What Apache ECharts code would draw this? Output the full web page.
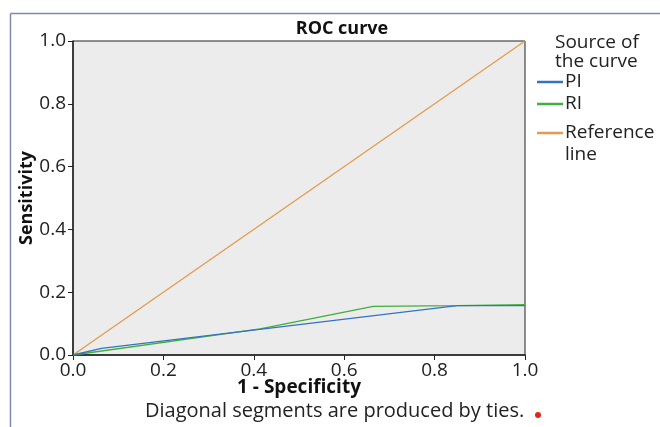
<!DOCTYPE html>
<html><head><meta charset="utf-8">
<script src="https://cdn.jsdelivr.net/npm/echarts@6/dist/echarts.min.js"></script>
<style>html,body{margin:0;padding:0;background:#fff}#c{width:660px;height:427px}</style>
</head><body><div id="c"></div>
<script>
const xTicks = [0.0, 0.2, 0.4, 0.6, 0.8, 1.0];
const piCurve = [[0, 0], [0.063, 0.021], [0.85, 0.157], [1.0, 0.157]];
const riCurve = [[0, 0], [0.414, 0.083], [0.664, 0.155], [0.85, 0.157], [1.0, 0.16]];
const refLine = [[0, 0], [1, 1]];
const seriesNames = ['PI', 'RI', 'Reference\nline'];
const colors = ['#3573c2', '#3fb03b', '#e39b4c'];
const FONT = '"Open Sans", "Noto Sans", sans-serif';

const chart = echarts.init(document.getElementById('c'));
const legendGraphics = [
  {type:'text', left:555, top:33, style:{text:'Source of\nthe curve', font:'19px ' + FONT, fill:'#222', lineHeight:19}}
];
const legendY = [82, 104, 133];
seriesNames.forEach((n, i) => {
  legendGraphics.push({type:'line', shape:{x1:537, y1:legendY[i], x2:563, y2:legendY[i]}, style:{stroke:colors[i], lineWidth:2.5}});
  legendGraphics.push({type:'text', left:565, top:legendY[i]-11, style:{text:n, font:'19px ' + FONT, fill:'#222', lineHeight:22}});
});

chart.setOption({
  animation:false,
  title:{text:'ROC curve', left:337, top:15, textAlign:'center', textStyle:{fontFamily:FONT, fontWeight:'bold', fontSize:18, color:'#111'}},
  grid:{left:73, right:135, top:41, bottom:72, show:true, backgroundColor:'#ececec', borderColor:'#222', borderWidth:1},
  xAxis:{type:'value', min:0, max:1, interval:0.2,
    name:'1 - Specificity', nameLocation:'middle', nameGap:23, nameMoveOverlap:false,
    nameTextStyle:{fontFamily:FONT, fontWeight:'bold', fontSize:19, color:'#111'},
    axisLine:{lineStyle:{color:'#222', width:1.5}}, axisTick:{show:true, length:5, lineStyle:{color:'#222'}},
    splitLine:{show:false},
    axisLabel:{fontFamily:FONT, fontSize:19, color:'#222', margin:6, formatter:v=>v.toFixed(1)}},
  yAxis:{type:'value', min:0, max:1, interval:0.2,
    name:'Sensitivity', nameLocation:'middle', nameGap:37, nameRotate:90, nameMoveOverlap:false,
    nameTextStyle:{fontFamily:FONT, fontWeight:'bold', fontSize:18, color:'#111'},
    axisLine:{show:true, lineStyle:{color:'#222', width:1.5}}, axisTick:{show:true, length:5, lineStyle:{color:'#222'}},
    splitLine:{show:false},
    axisLabel:{fontFamily:FONT, fontSize:19, color:'#222', margin:7, formatter:v=>v.toFixed(1)}},
  series:[
    {name:seriesNames[2], type:'line', data:refLine, showSymbol:false, lineStyle:{color:colors[2], width:1.3}, z:2},
    {name:seriesNames[1], type:'line', data:riCurve, showSymbol:false, lineStyle:{color:colors[1], width:1.3}, z:3},
    {name:seriesNames[0], type:'line', data:piCurve, showSymbol:false, lineStyle:{color:colors[0], width:1.3}, z:4}
  ],
  graphic:[
    {type:'line', shape:{x1:10.5, y1:13.5, x2:660, y2:13.5}, style:{stroke:'#7d8ca6', lineWidth:1.5}},
    {type:'line', shape:{x1:10.5, y1:13.5, x2:10.5, y2:427}, style:{stroke:'#7d8ca6', lineWidth:1.5}},
    {type:'text', left:145, top:401, style:{text:'Diagonal segments are produced by ties.', font:'20px ' + FONT, fill:'#222'}},
    {type:'circle', shape:{cx:538, cy:415, r:3}, style:{fill:'#e8231f'}}
  ].concat(legendGraphics)
});
</script></body></html>
